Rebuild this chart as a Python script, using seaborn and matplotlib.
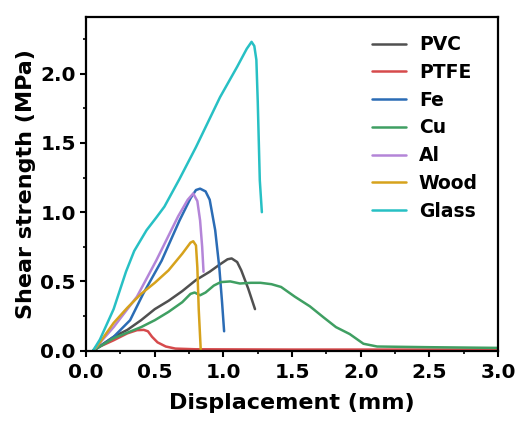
import numpy as np
import pandas as pd
import matplotlib
matplotlib.use("Agg")
import matplotlib.pyplot as plt
from matplotlib.ticker import AutoMinorLocator, MultipleLocator
import seaborn as sns

materials = ["PVC", "PTFE", "Fe", "Cu", "Al", "Wood", "Glass"]
colors = ["#505050", "#d64a4c", "#2b6cb5", "#3f9f62", "#b485d8", "#d6a21c", "#27c0c4"]

pvc_x = [0.05, 0.2, 0.3, 0.4, 0.5, 0.6, 0.7, 0.8, 0.9, 0.97, 1.03, 1.06, 1.10, 1.13, 1.18, 1.23]
pvc_y = [0.0, 0.10, 0.15, 0.22, 0.30, 0.36, 0.43, 0.51, 0.57, 0.62, 0.66, 0.666, 0.64, 0.58, 0.45, 0.30]

ptfe_x = [0.05, 0.1, 0.2, 0.3, 0.37, 0.42, 0.45, 0.48, 0.52, 0.58, 0.65, 0.8, 1.5, 2.2, 3.0]
ptfe_y = [0.0, 0.03, 0.075, 0.125, 0.148, 0.15, 0.14, 0.10, 0.06, 0.03, 0.015, 0.01, 0.008, 0.008, 0.008]

fe_x = [0.05, 0.1, 0.2, 0.32, 0.415, 0.55, 0.68, 0.76, 0.80, 0.83, 0.87, 0.90, 0.94, 0.97, 0.99, 1.005]
fe_y = [0.0, 0.03, 0.10, 0.22, 0.41, 0.65, 0.94, 1.10, 1.16, 1.17, 1.15, 1.09, 0.87, 0.60, 0.35, 0.14]

cu_x = [0.05, 0.2, 0.3, 0.4, 0.5, 0.6, 0.7, 0.76, 0.79, 0.83, 0.87, 0.93, 0.98, 1.05, 1.12, 1.2, 1.27,
        1.35, 1.42, 1.52, 1.63, 1.73, 1.82, 1.92, 2.02, 2.12, 2.5, 3.0]
cu_y = [0.0, 0.09, 0.13, 0.17, 0.22, 0.28, 0.35, 0.41, 0.42, 0.40, 0.42, 0.47, 0.495, 0.50, 0.485, 0.49, 0.49,
        0.48, 0.46, 0.39, 0.32, 0.24, 0.17, 0.12, 0.05, 0.03, 0.025, 0.02]

al_x = [0.05, 0.2, 0.37, 0.51, 0.67, 0.74, 0.78, 0.81, 0.83, 0.845, 0.855]
al_y = [0.0, 0.17, 0.39, 0.65, 0.97, 1.09, 1.135, 1.08, 0.94, 0.75, 0.57]

wood_x = [0.05, 0.1, 0.2, 0.3, 0.4, 0.5, 0.6, 0.7, 0.76, 0.78, 0.80, 0.81, 0.82, 0.835]
wood_y = [0.0, 0.06, 0.20, 0.31, 0.41, 0.49, 0.58, 0.70, 0.78, 0.79, 0.76, 0.60, 0.30, 0.0]

glass_x = [0.05, 0.10, 0.2, 0.29, 0.35, 0.44, 0.51, 0.57, 0.68, 0.8, 0.975, 1.1, 1.17, 1.205, 1.225,
           1.24, 1.25, 1.265, 1.28]
glass_y = [0.0, 0.08, 0.30, 0.57, 0.72, 0.87, 0.96, 1.04, 1.24, 1.47, 1.83, 2.05, 2.18, 2.23, 2.20,
           2.10, 1.80, 1.23, 1.0]

xs = [pvc_x, ptfe_x, fe_x, cu_x, al_x, wood_x, glass_x]
ys = [pvc_y, ptfe_y, fe_y, cu_y, al_y, wood_y, glass_y]

frames = []
for m, x, y in zip(materials, xs, ys):
    frames.append(pd.DataFrame({"Displacement": x, "Shear": y, "Material": m}))
df = pd.concat(frames, ignore_index=True)

sns.set_style("ticks")
plt.rcParams["font.family"] = ["DejaVu Sans"]
plt.rcParams["font.weight"] = "bold"
plt.rcParams["text.color"] = "black"
plt.rcParams["axes.labelcolor"] = "black"
plt.rcParams["xtick.color"] = "black"
plt.rcParams["ytick.color"] = "black"
plt.rcParams["axes.edgecolor"] = "black"

fig = plt.figure(figsize=(5.16, 4.23), dpi=100)
ax = fig.add_axes([0.167, 0.171, 0.798, 0.789])

sns.lineplot(data=df, x="Displacement", y="Shear", hue="Material", hue_order=materials,
             palette=dict(zip(materials, colors)), sort=False, estimator=None,
             linewidth=1.8, ax=ax)

ax.set_xlim(0, 3.0)
ax.set_ylim(0, 2.41)
ax.xaxis.set_major_locator(MultipleLocator(0.5))
ax.yaxis.set_major_locator(MultipleLocator(0.5))
ax.xaxis.set_minor_locator(AutoMinorLocator(2))
ax.yaxis.set_minor_locator(AutoMinorLocator(2))
ax.tick_params(which="major", direction="out", length=4, width=1.5, labelsize=14.5)
ax.tick_params(axis="x", which="major", pad=5)
ax.tick_params(axis="y", which="major", pad=3.5)
ax.tick_params(which="minor", direction="out", length=2.5, width=1.2)
ax.tick_params(top=False, right=False, which="both")
for lab in ax.get_xticklabels() + ax.get_yticklabels():
    lab.set_fontweight("bold")
for s in ax.spines.values():
    s.set_linewidth(1.6)
    s.set_visible(True)

ax.set_xlabel("Displacement (mm)", fontsize=16, fontweight="bold", labelpad=8)
ax.set_ylabel("Shear strength (MPa)", fontsize=16, fontweight="bold", labelpad=3)

ax.legend(loc="upper left", bbox_to_anchor=(0.694, 0.945), frameon=False,
          borderaxespad=0, borderpad=0, handlelength=1.8, handletextpad=0.7,
          labelspacing=0.465, prop={"weight": "bold", "size": 13.5})

fig.savefig("out.png", dpi=100)
